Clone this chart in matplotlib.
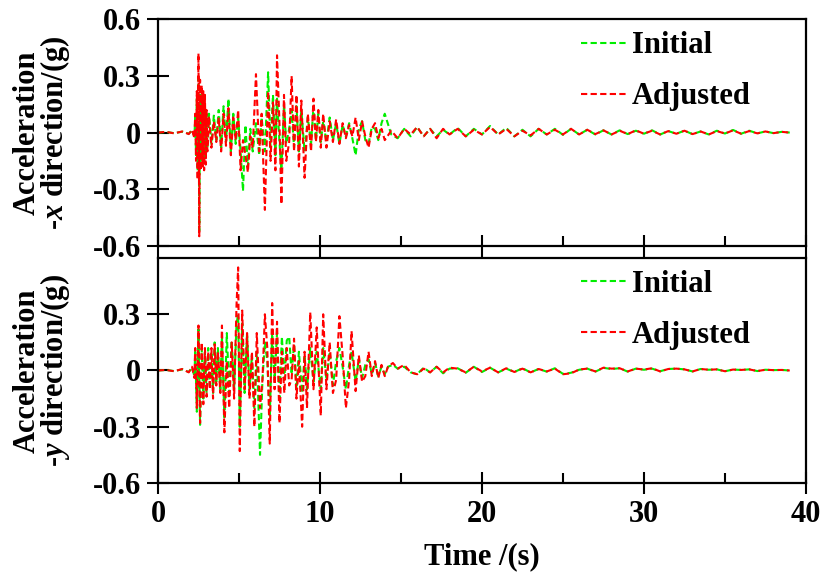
import matplotlib.pyplot as plt
from matplotlib.ticker import MultipleLocator

# time points (s) picked off the x-direction record
t_x = [0, 0.5, 1.0, 1.5, 1.9, 2.1, 2.25,
       2.30, 2.35, 2.40, 2.45, 2.50, 2.55, 2.60, 2.65, 2.70, 2.75, 2.80, 2.85, 2.90, 2.95, 3.00, 3.05,
       3.15, 3.30, 3.45, 3.60, 3.75, 3.90, 4.05, 4.20, 4.35, 4.50, 4.65, 4.80, 4.95, 5.10, 5.25, 5.40,
       5.55, 5.70, 5.85,
       6.05, 6.25, 6.40, 6.60, 6.80, 6.95, 7.10, 7.25, 7.35, 7.50, 7.62, 7.78, 7.92, 8.10, 8.25, 8.40,
       8.55, 8.70, 8.85, 9.05, 9.25, 9.45, 9.60, 9.75, 9.90, 10.05,
       10.2, 10.4, 10.6, 10.8, 11.0, 11.2, 11.4, 11.6, 11.8, 12.0, 12.2, 12.4, 12.6, 12.8, 13.0, 13.2,
       13.4, 13.6, 13.8, 14.0,
       14.4, 14.8, 15.2, 15.6, 16.0, 16.4, 16.8, 17.2, 17.6, 18.0,
       18.5, 19.0, 19.5, 20.0, 20.5, 21.0, 21.5, 22.0, 22.5, 23.0, 23.5, 24.0, 24.5, 25.0, 25.5, 26.0,
       26.5, 27.0, 27.5, 28.0, 28.5, 29.0, 29.5, 30.0, 30.5, 31.0, 31.5, 32.0, 32.5, 33.0, 33.5, 34.0,
       34.5, 35.0, 35.5, 36.0, 36.5, 37.0, 37.5, 38.0, 38.5, 39.0]

acc_x_initial = [0, 0.003, -0.003, 0.005, -0.006, 0.01, -0.02,
                 0.08, -0.12, 0.18, -0.20, 0.29, -0.52, 0.20, -0.15, 0.20, -0.14, 0.16, -0.15, 0.15, -0.12, 0.10, -0.08,
                 0.10, -0.06, 0.09, -0.04, 0.12, -0.08, 0.14, -0.05, 0.18, -0.10, 0.10, -0.06, 0.08, -0.10, -0.31, 0.04,
                 -0.18, 0.02, -0.10,
                 0.05, -0.12, 0.08, -0.10, 0.32, -0.08, 0.20, -0.12, 0.18, -0.05, -0.20, 0.15, -0.06, 0.02, 0.12, -0.08,
                 0.14, -0.10, 0.12, -0.10, 0.08, -0.06, 0.14, -0.04, 0.10, -0.05,
                 0.06, -0.05, 0.08, -0.04, 0.05, -0.06, 0.04, -0.02, 0.05, -0.03, -0.12, 0.02, 0.06, -0.04, -0.06, 0.03,
                 0.02, -0.04, 0.05, 0.10,
                 -0.01, -0.03, 0.02, -0.02, 0.03, -0.02, 0.02, -0.02, 0.015, -0.01,
                 0.025, -0.02, 0.02, -0.01, 0.035, -0.01, 0.025, -0.02, 0.015, -0.02, 0.02, -0.01, 0.02, -0.012, 0.02, -0.01,
                 0.015, -0.01, 0.012, -0.01, 0.012, -0.008, 0.01, -0.006, 0.012, -0.01, 0.008, -0.006, 0.01, -0.008, 0.006, -0.01,
                 0.01, -0.005, 0.014, -0.006, 0.01, -0.004, 0.006, -0.003, 0.004, 0.0]

acc_x_adjusted = [0, 0.004, -0.004, 0.006, -0.008, 0.015, -0.03,
                  0.10, -0.15, 0.22, -0.25, 0.42, -0.55, 0.28, -0.20, 0.25, -0.18, 0.22, -0.20, 0.20, -0.17, 0.12, -0.10,
                  0.08, -0.08, 0.06, -0.05, 0.08, -0.10, 0.10, -0.07, 0.13, -0.12, 0.08, -0.04, 0.12, -0.20, -0.04, -0.12,
                  -0.21, -0.02, -0.08,
                  0.31, -0.10, 0.10, -0.41, 0.22, -0.15, 0.16, -0.20, 0.41, 0.05, -0.38, 0.20, -0.15, -0.05, 0.30, -0.10,
                  0.20, -0.18, 0.17, -0.24, 0.10, -0.10, 0.18, -0.05, 0.12, -0.08,
                  0.10, -0.08, 0.06, -0.05, 0.07, -0.06, 0.05, -0.03, 0.04, -0.02, 0.08, -0.04, 0.06, -0.02, -0.08, 0.02,
                  0.05, -0.03, 0.02, -0.04,
                  0.01, -0.03, 0.02, -0.01, 0.03, -0.02, 0.02, -0.03, 0.02, -0.01,
                  0.02, -0.02, 0.015, -0.01, 0.03, -0.01, 0.02, -0.02, 0.01, -0.015, 0.02, -0.01, 0.015, -0.01, 0.02, -0.01,
                  0.015, -0.008, 0.012, -0.01, 0.01, -0.008, 0.012, -0.006, 0.01, -0.01, 0.008, -0.006, 0.01, -0.008, 0.006, -0.01,
                  0.008, -0.005, 0.012, -0.006, 0.008, -0.004, 0.006, -0.003, 0.004, 0.0]

# time points (s) picked off the y-direction record
t_y = [0, 0.5, 1.0, 1.5, 1.9, 2.1, 2.25,
       2.3, 2.4, 2.5, 2.6, 2.7, 2.8, 2.9, 3.0, 3.1, 3.2, 3.3, 3.4, 3.5, 3.6, 3.7,
       3.85, 3.95, 4.1, 4.25, 4.4, 4.55, 4.7, 4.85, 4.95, 5.05,
       5.2, 5.35, 5.5, 5.65, 5.8, 5.95, 6.1, 6.3, 6.45, 6.6,
       6.75, 6.9, 7.05, 7.2, 7.35, 7.5, 7.65, 7.8, 7.95, 8.1,
       8.25, 8.4, 8.55, 8.7, 8.9, 9.05, 9.2, 9.4, 9.6, 9.8,
       10.05, 10.2, 10.4, 10.6, 10.8, 11.0, 11.2, 11.4, 11.6, 11.8,
       11.95, 12.2, 12.4, 12.6, 12.8, 13.0, 13.2, 13.4, 13.6, 13.8,
       14.0, 14.2, 14.5, 14.8, 15.2,
       15.6, 16.0, 16.4, 16.8, 17.2, 17.6, 18.0,
       18.5, 19.0, 19.5, 20.0, 20.5, 21.0, 21.5, 22.0, 22.5, 23.0, 23.5, 24.0, 24.5, 25.0, 25.5, 26.0,
       26.5, 27.0, 27.5, 28.0, 28.5, 29.0, 29.5, 30.0, 30.5, 31.0, 31.5, 32.0, 32.5, 33.0, 33.5, 34.0,
       34.5, 35.0, 35.5, 36.0, 36.5, 37.0, 37.5, 38.0, 38.5, 39.0]

acc_y_initial = [0, 0.003, -0.003, 0.006, -0.008, 0.015, -0.03,
                 0.10, -0.22, 0.22, -0.29, 0.12, -0.15, 0.10, -0.12, 0.12, -0.08, 0.10, -0.12, 0.15, -0.06, 0.12,
                 -0.10, 0.18, -0.25, 0.20, -0.12, 0.16, -0.10, 0.25, 0.30, -0.30,
                 0.25, -0.12, 0.20, -0.10, 0.08, -0.20, 0.10, -0.45, -0.05, 0.15,
                 0.05, -0.25, 0.20, -0.05, 0.20, -0.15, 0.18, -0.05, 0.16, 0.18,
                 -0.02, 0.14, -0.10, 0.10, -0.12, 0.08, -0.10, 0.12, -0.06, 0.10,
                 -0.10, 0.12, -0.05, 0.10, -0.08, 0.05, 0.12, 0.02, -0.10, 0.03,
                 0.10, -0.06, 0.06, -0.04, 0.03, 0.06, -0.02, 0.04, -0.03, 0.02,
                 -0.02, 0.02, 0.03, 0.01, 0.02,
                 -0.01, -0.02, 0.015, -0.01, 0.02, -0.015, 0.01,
                 0.012, -0.012, 0.02, -0.008, 0.015, -0.01, 0.01, -0.008, 0.012, -0.01, 0.008, -0.006, 0.012, -0.018, -0.012, 0.004,
                 0.01, -0.006, 0.014, 0.008, 0.012, -0.006, 0.01, 0.004, 0.01, -0.004, 0.008, 0.01, 0.006, -0.005, 0.008, 0.004,
                 0.006, -0.004, 0.005, 0.003, 0.006, -0.003, 0.004, 0.002, 0.003, 0.0]

acc_y_adjusted = [0, 0.003, -0.004, 0.008, -0.01, 0.02, -0.04,
                  0.12, -0.20, 0.24, -0.28, 0.15, -0.18, 0.12, -0.14, 0.10, -0.10, 0.12, -0.15, 0.14, -0.08, 0.10,
                  -0.12, 0.24, -0.33, 0.05, -0.20, 0.15, -0.15, 0.35, 0.55, -0.43,
                  0.32, -0.10, 0.20, -0.15, 0.10, -0.30, 0.20, -0.20, -0.05, 0.30,
                  0.12, -0.39, 0.36, -0.10, 0.26, -0.28, 0.10, -0.12, 0.12, -0.08,
                  -0.05, 0.17, -0.15, 0.05, -0.30, 0.10, -0.20, 0.31, -0.10, 0.23,
                  -0.24, 0.30, -0.10, 0.15, -0.12, -0.05, 0.29, 0.08, -0.20, -0.05,
                  0.21, -0.11, 0.08, -0.06, -0.03, 0.10, -0.03, 0.05, -0.04, 0.03,
                  -0.03, 0.02, 0.04, 0.01, 0.03,
                  -0.01, -0.02, 0.01, -0.01, 0.02, -0.01, 0.015,
                  0.01, -0.01, 0.02, -0.005, 0.015, -0.01, 0.012, -0.008, 0.01, -0.01, 0.008, -0.005, 0.01, -0.02, -0.015, 0.005,
                  0.01, -0.005, 0.015, 0.01, 0.012, -0.005, 0.01, 0.005, 0.012, -0.005, 0.008, 0.01, 0.006, -0.005, 0.008, 0.004,
                  0.006, -0.004, 0.005, 0.003, 0.006, -0.003, 0.004, 0.002, 0.003, 0.0]

y_ticks_top = [-0.6, -0.3, 0, 0.3, 0.6]
y_labels_top = ['-0.6', '-0.3', '0', '0.3', '0.6']
y_ticks_bottom = [-0.6, -0.3, 0, 0.3]
y_labels_bottom = ['-0.6', '-0.3', '0', '0.3']

plt.rcParams['font.family'] = 'Liberation Serif'
plt.rcParams['font.weight'] = 'bold'
plt.rcParams['axes.labelweight'] = 'bold'
plt.rcParams['mathtext.fontset'] = 'custom'
plt.rcParams['mathtext.it'] = 'Liberation Serif:italic:bold'
plt.rcParams['mathtext.rm'] = 'Liberation Serif:bold'
plt.rcParams['axes.unicode_minus'] = False

fig = plt.figure(figsize=(8.24, 5.78), dpi=100)
ax1 = fig.add_axes([0.1917, 0.5749, 0.7864, 0.3914])
ax2 = fig.add_axes([0.1917, 0.1644, 0.7864, 0.3892])

dash = (0, (3, 1.6))
panels = [
    (ax1, t_x, acc_x_initial, acc_x_adjusted, 'x', y_ticks_top, y_labels_top),
    (ax2, t_y, acc_y_initial, acc_y_adjusted, 'y', y_ticks_bottom, y_labels_bottom),
]
for ax, t, a_init, a_adj, d, yt, yl in panels:
    ax.plot(t, a_init, color='#00ee00', lw=1.5, ls=dash, label='Initial')
    ax.plot(t, a_adj, color='#ff0000', lw=1.5, ls=dash, label='Adjusted')
    ax.set_xlim(0, 40)
    ax.set_ylim(-0.6, 0.6)
    ax.set_yticks(yt)
    ax.set_yticklabels(yl)
    ax.set_xticks([0, 10, 20, 30, 40])
    ax.xaxis.set_minor_locator(MultipleLocator(5))
    ax.tick_params(which='major', direction='inout', length=16, width=1.5, labelsize=22, pad=4)
    ax.tick_params(which='minor', direction='in', length=7, width=1.5)
    for s in ax.spines.values():
        s.set_linewidth(1.6)
    ax.set_ylabel('Acceleration\n-$%s$ direction/(g)' % d, fontsize=22, linespacing=0.88)
    ax.yaxis.set_label_coords(-0.132, 0.5)
    ax.legend(loc='upper left', bbox_to_anchor=(0.63, 1.015), frameon=False, fontsize=22,
              handlelength=1.5, handletextpad=0.15, labelspacing=0.72, borderpad=0.0)

ax1.tick_params(axis='x', labelbottom=False)
ax2.set_xlabel('Time /(s)', fontsize=22, labelpad=10)

fig.savefig('out.png', dpi=100)
